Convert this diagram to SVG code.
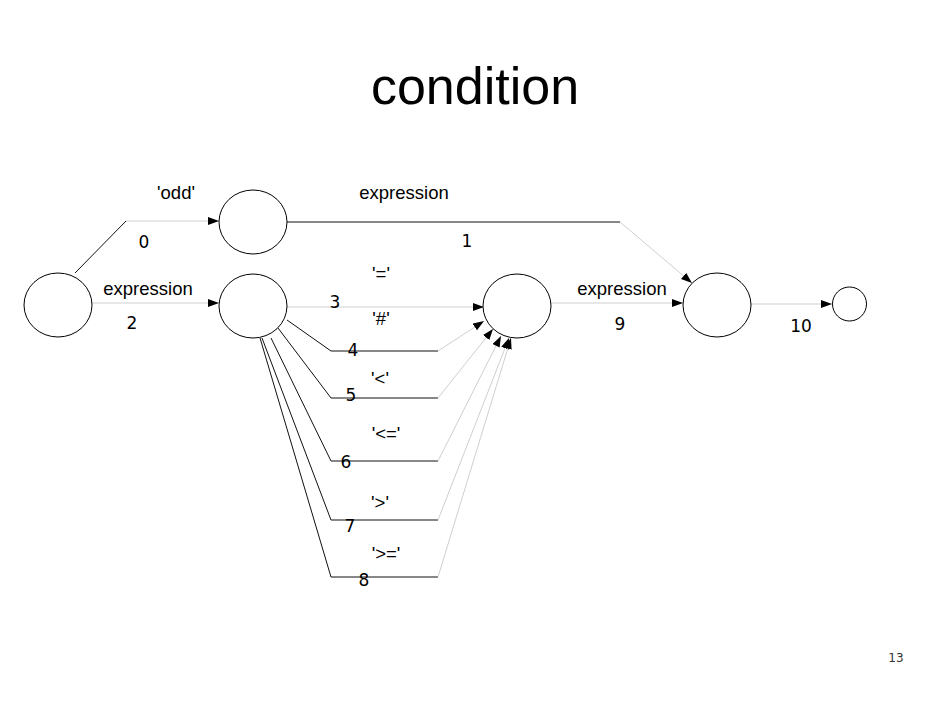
<svg xmlns="http://www.w3.org/2000/svg" width="950" height="710" viewBox="0 0 950 710">
<style>
.node{fill:#fff;stroke:#000;stroke-width:1}
.dark{fill:none;stroke:#111;stroke-width:1}
.light{fill:none;stroke:#cfcfcf;stroke-width:1}
.lbl{font-family:"Liberation Sans",Arial,sans-serif;font-size:18.5px;fill:#000;text-anchor:middle}
.num{font-family:"DejaVu Sans",sans-serif;font-size:17px;fill:#000;text-anchor:middle}
.title{font-family:"Liberation Sans",Arial,sans-serif;font-size:52px;fill:#000;text-anchor:middle}
.page{font-family:"DejaVu Sans",sans-serif;font-size:12px;fill:#333;text-anchor:middle}
</style>
<defs>
<marker id="arr" markerUnits="userSpaceOnUse" markerWidth="12" markerHeight="9" refX="11" refY="4" orient="auto">
<path d="M0,0 L11,4 L0,8 z" fill="#000"/>
</marker>
</defs>
<rect width="950" height="710" fill="#fff"/>
<text class="title" x="475" y="104">condition</text>
<g id="connectors">
<!-- edge 0 -->
<line class="dark" x1="75" y1="273" x2="126" y2="221"/>
<line class="light" x1="126" y1="221" x2="219" y2="221" marker-end="url(#arr)"/>
<!-- edge 2 -->
<line class="light" x1="92" y1="303" x2="219" y2="303" marker-end="url(#arr)"/>
<!-- edge 1 -->
<line class="dark" x1="287" y1="222" x2="620" y2="222"/>
<line class="light" x1="620" y1="222" x2="692" y2="283" marker-end="url(#arr)"/>
<!-- edge 3 -->
<line class="light" x1="287" y1="307" x2="484" y2="307" marker-end="url(#arr)"/>
<!-- edge 4 -->
<polyline class="dark" points="287,320 331,351 438,351"/>
<line class="light" x1="438" y1="351" x2="484" y2="321" marker-end="url(#arr)"/>
<!-- edge 5 -->
<polyline class="dark" points="278,328 331,398 438,398"/>
<line class="light" x1="438" y1="398" x2="493" y2="329" marker-end="url(#arr)"/>
<!-- edge 6 -->
<polyline class="dark" points="271,338 331,461 438,461"/>
<line class="light" x1="438" y1="461" x2="501" y2="336" marker-end="url(#arr)"/>
<!-- edge 7 -->
<polyline class="dark" points="262,338 331,520 438,520"/>
<line class="light" x1="438" y1="520" x2="509" y2="338" marker-end="url(#arr)"/>
<!-- edge 8 -->
<polyline class="dark" points="260,338 331,577 438,577"/>
<line class="light" x1="438" y1="577" x2="511" y2="338" marker-end="url(#arr)"/>
<!-- edge 9 -->
<line class="light" x1="551" y1="303" x2="683" y2="303" marker-end="url(#arr)"/>
<!-- edge 10 -->
<line class="light" x1="751" y1="304" x2="832" y2="304" marker-end="url(#arr)"/>
</g>
<g id="labels">
<text class="lbl" x="176" y="199">'odd'</text>
<text class="num" x="144" y="248">0</text>
<text class="lbl" x="148" y="295">expression</text>
<text class="num" x="132" y="329">2</text>
<text class="lbl" x="404" y="199">expression</text>
<text class="num" x="467" y="247">1</text>
<text class="lbl" x="381" y="280">'='</text>
<text class="num" x="335" y="308">3</text>
<text class="lbl" x="381" y="325">'#'</text>
<text class="num" x="353" y="356">4</text>
<text class="lbl" x="380" y="385">'&lt;'</text>
<text class="num" x="351" y="401">5</text>
<text class="lbl" x="386" y="440">'&lt;='</text>
<text class="num" x="346" y="468">6</text>
<text class="lbl" x="380" y="509">'&gt;'</text>
<text class="num" x="350" y="532">7</text>
<text class="lbl" x="386" y="560">'&gt;='</text>
<text class="num" x="364" y="586">8</text>
<text class="lbl" x="622" y="295">expression</text>
<text class="num" x="620" y="330">9</text>
<text class="num" x="801" y="332">10</text>
</g>
<g id="n_start"><ellipse class="node" cx="58" cy="305" rx="34" ry="32"/></g>
<g id="n_odd"><ellipse class="node" cx="253" cy="222" rx="34" ry="32"/></g>
<g id="n_expr"><ellipse class="node" cx="253" cy="306" rx="34" ry="32"/></g>
<g id="n_rel"><ellipse class="node" cx="517" cy="306" rx="34" ry="32"/></g>
<g id="n_join"><ellipse class="node" cx="717" cy="305" rx="34" ry="32"/></g>
<g id="n_end"><ellipse class="node" cx="849.5" cy="304" rx="17" ry="17"/></g>
<text class="page" x="896" y="662">13</text>
</svg>
